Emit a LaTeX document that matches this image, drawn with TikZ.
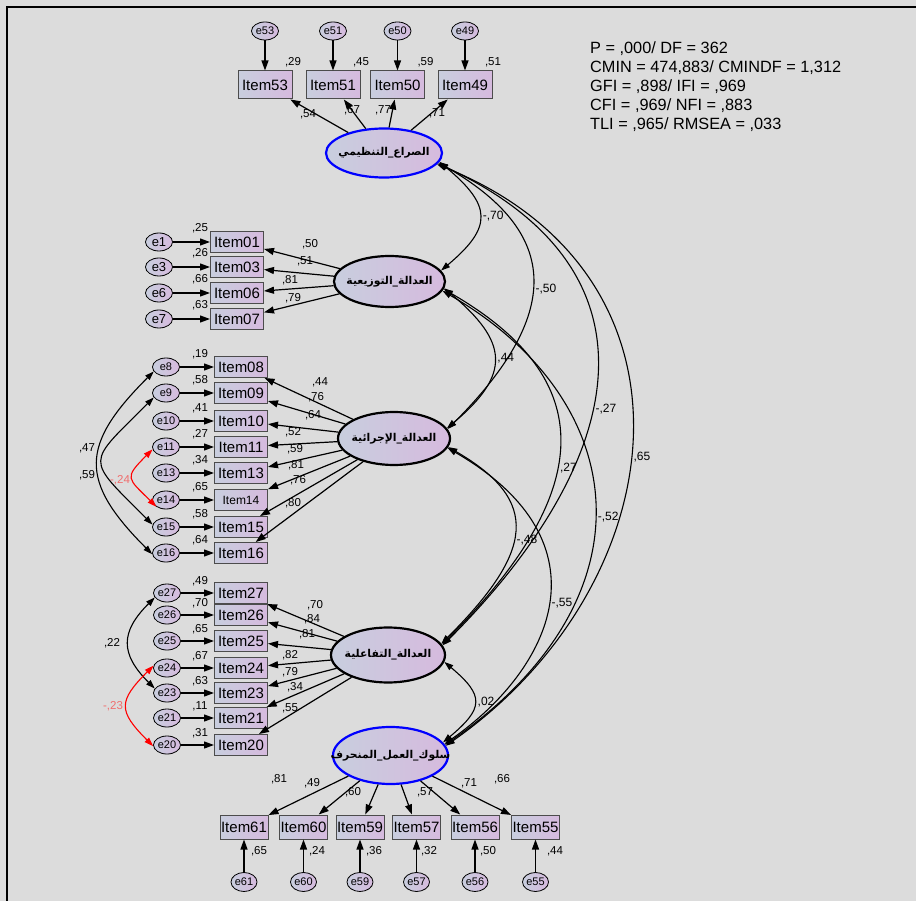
\documentclass[tikz,border=0pt]{standalone}
\usepackage{fontspec}
\setmainfont{Liberation Sans}
\newfontfamily\arabicfont[Script=Arabic]{DejaVu Sans}
\TeXXeTstate=1
\usetikzlibrary{arrows.meta,shapes.geometric}

\definecolor{bgcol}{RGB}{220,220,220}
\definecolor{nodeL}{RGB}{200,206,222}
\definecolor{nodeR}{RGB}{214,186,222}
\definecolor{lightred}{RGB}{240,110,110}

\begin{document}
\begin{tikzpicture}[x=1pt, y=1pt,
  item/.style={draw=black!70, line width=1pt, left color=nodeL, right color=nodeR, inner sep=0pt, minimum width=53pt, minimum height=21pt, font=\fontsize{15}{15}\selectfont},
  err/.style={ellipse, draw, line width=0.8pt, left color=nodeL, right color=nodeR, inner sep=0pt, minimum width=27pt, minimum height=18pt, font=\fontsize{11}{11}\selectfont},
  factor/.style={ellipse, draw, line width=2.2pt, left color=nodeL, right color=nodeR, inner sep=0pt},
  ftext/.style={font=\arabicfont\bfseries\fontsize{10.8}{10.8}\selectfont, inner sep=0pt},
  lbl/.style={font=\fontsize{11.5}{11.5}\selectfont, inner sep=0pt},
  clbl/.style={font=\fontsize{12}{12}\selectfont, inner sep=0pt, pos=0.5, right=3pt},
  arrow/.style={-{Triangle[length=10pt,width=7pt]}, line width=1.2pt},
  corr/.style={{Triangle[length=9pt,width=6pt]}-{Triangle[length=9pt,width=6pt]}, line width=1.1pt}
]
\useasboundingbox (0,0) rectangle (916,-901);
\fill[bgcol] (0,0) rectangle (916,-901);
\draw[line width=2pt] (7,-901) -- (7,-7) -- (916,-7);

% latent variables
\node[factor, draw=blue, minimum width=116pt, minimum height=49pt] (F1) at (384,-153) {};
\node[factor, minimum width=111pt, minimum height=51pt] (F2) at (389.5,-281.5) {};
\node[factor, minimum width=112pt, minimum height=53pt] (F3) at (394,-438.5) {};
\node[factor, minimum width=114pt, minimum height=55pt] (F4) at (388,-655) {};
\node[factor, draw=blue, minimum width=115pt, minimum height=57pt] (F5) at (390.5,-755.5) {};
\node[ftext] (F1text) at (F1) {\beginR الصراع\_التنظيمي\endR};
\node[ftext] (F2text) at (F2) {\beginR العدالة\_التوزيعية\endR};
\node[ftext] (F3text) at (F3) {\beginR العدالة\_الإجرائية\endR};
\node[ftext] (F4text) at (F4) {\beginR العدالة\_التفاعلية\endR};
\node[ftext] (F5text) at (F5) {\beginR سلوك\_العمل\_المنحرف\endR};

% fit indices
\node[anchor=north west, align=left, inner sep=0pt, font=\fontsize{16.3}{19}\selectfont] (fit) at (590,-41)
  {P = ,000/ DF = 362\\CMIN = 474,883/ CMINDF = 1,312\\GFI = ,898/ IFI = ,969\\CFI = ,969/ NFI = ,883\\TLI = ,965/ RMSEA = ,033};

% indicators of F1
\foreach \n/\x/\w/\lx/\ly/\r in {53/265/54/308/114/29, 51/333/67/352/110/45, 50/397.5/77/383/110/59, 49/465/71/437/113/51}{
  \node[err] (e\n) at (\x,-31) {e\n};
  \node[item, minimum width=54pt, minimum height=28pt] (i\n) at (\x,-85) {Item\n};
  \draw[arrow] (e\n) -- (i\n);
  \draw[arrow] (F1) -- (i\n);
  \node[lbl] at (\x+28,-62) {,\r};
  \node[lbl] at (\lx,-\ly) {,\w};
}

% indicators of F2
\foreach \n/\e/\y/\w/\lx/\ly/\r in {01/1/242/50/310/244/25, 03/3/267/51/305/261/26, 06/6/293/81/290/280/66, 07/7/319/79/293/298/63}{
  \node[err, font=\fontsize{13}{13}\selectfont] (e\n) at (159,-\y) {e\e};
  \node[item] (i\n) at (237,-\y) {Item\n};
  \draw[arrow] (e\n) -- (i\n);
  \draw[arrow] (F2) -- (i\n);
  \node[lbl] at (200,-\y+14) {,\r};
  \node[lbl] at (\lx,-\ly) {,\w};
}

% indicators of F3
\foreach \n/\e/\y/\w/\lx/\ly/\r/\f in {08/8/367/44/320/382/19/15, 09/9/393/76/316/397/58/15, 10/10/421/64/313/415/41/15, 11/11/447/52/293/432/27/15, 13/13/473/59/295/449/34/15, 14/14/500/81/296/465/65/12, 15/15/527/76/298/480/58/15, 16/16/553/80/293/503/64/15}{
  \node[err] (e\n) at (166,-\y) {e\e};
  \node[item, font=\fontsize{\f}{\f}\selectfont] (i\n) at (241,-\y) {Item\n};
  \draw[arrow] (e\n) -- (i\n);
  \draw[arrow] (F3) -- (i\n);
  \node[lbl] at (200,-\y+13) {,\r};
  \node[lbl] at (\lx,-\ly) {,\w};
}

% indicators of F4
\foreach \n/\y/\w/\lx/\ly/\r in {27/593/70/315/605/49, 26/615/84/312/619/70, 25/641/81/307/634/65, 24/668/82/290/655/67, 23/693/79/290/672/63, 21/718/34/295/687/11, 20/745/55/290/708/31}{
  \node[err] (e\n) at (167,-\y) {e\n};
  \node[item] (i\n) at (241,-\y) {Item\n};
  \draw[arrow] (e\n) -- (i\n);
  \draw[arrow] (F4) -- (i\n);
  \node[lbl] at (200,-\y+12) {,\r};
  \node[lbl] at (\lx,-\ly) {,\w};
}

% indicators of F5
\foreach \n/\x/\w/\lx/\ly/\rx/\r in {61/244/81/279/779/259/65, 60/303.5/49/312/783/317/24, 59/360/60/353/792/374/36, 57/416.5/57/425/792/429/32, 56/475/71/469/783/488/50, 55/535.5/66/502/779/555/44}{
  \node[err, minimum width=26pt, minimum height=19pt] (e\n) at (\x,-882) {e\n};
  \node[item, minimum width=48pt, minimum height=24pt] (i\n) at (\x,-827) {Item\n};
  \draw[arrow] (e\n) -- (i\n);
  \draw[arrow] (F5) -- (i\n);
  \node[lbl] at (\rx,-851) {,\r};
  \node[lbl] at (\lx,-\ly) {,\w};
}

% error covariances
\draw[corr] (e08.200) to[out=225, in=135, distance=104pt] (e16.185);
\draw[corr] (e09.200) to[out=225, in=135, distance=96pt] (e15.170);
\node[lbl] (c47) at (87,-448) {,47};
\node[lbl] (c59) at (87,-475) {,59};
\draw[corr, red] (e11.190) to[out=225, in=135, distance=41pt] (e14.215);
\node[lbl, text=lightred] (c24) at (120,-480) {-,24};
\draw[corr] (e27.200) to[out=225, in=135, distance=49pt] (e23.160);
\node[lbl] (c22) at (112,-643) {,22};
\draw[corr, red] (e24.170) to[out=225, in=135, distance=50pt] (e20.185);
\node[lbl, text=lightred] (c23) at (113,-706) {-,23};

% factor correlations
\draw[corr] (F1.-9) to[out=-40, in=40, distance=68pt] node[clbl] {-,70} (F2.12);
\draw[corr] (F1.-10) to[out=-30, in=45, out distance=135pt, in distance=170pt] node[clbl, pos=0.55] {-,50} (F3.10);
\draw[corr] (F1.-11) to[out=-25, in=45, out distance=260pt, in distance=255pt] node[clbl, pos=0.56] {-,27} (F4.10);
\draw[corr] (F1.-12) to[out=-22, in=35, out distance=300pt, in distance=279pt] node[clbl, pos=0.53] {,65} (F5.10);
\draw[corr] (F2.-7) to[out=-40, in=40, distance=84pt] node[clbl] {,44} (F3.11);
\draw[corr] (F2.-8.5) to[out=-30, in=45, out distance=181pt, in distance=217pt] node[clbl, pos=0.57] {,27} (F4.11);
\draw[corr] (F2.-10) to[out=-30, in=35, out distance=217pt, in distance=260pt] node[clbl, pos=0.53] {-,52} (F5.11);
\draw[corr] (F3.-9) to[out=-30, in=45, out distance=108pt, in distance=130pt] node[clbl, pos=0.55] {-,48} (F4.12);
\draw[corr] (F3.-10) to[out=-30, in=35, out distance=190pt, in distance=131pt] node[clbl] {-,55} (F5.12);
\draw[corr] (F4.-7) to[out=-40, in=40, distance=53pt] node[clbl] {,02} (F5.14);
\end{tikzpicture}
\end{document}
